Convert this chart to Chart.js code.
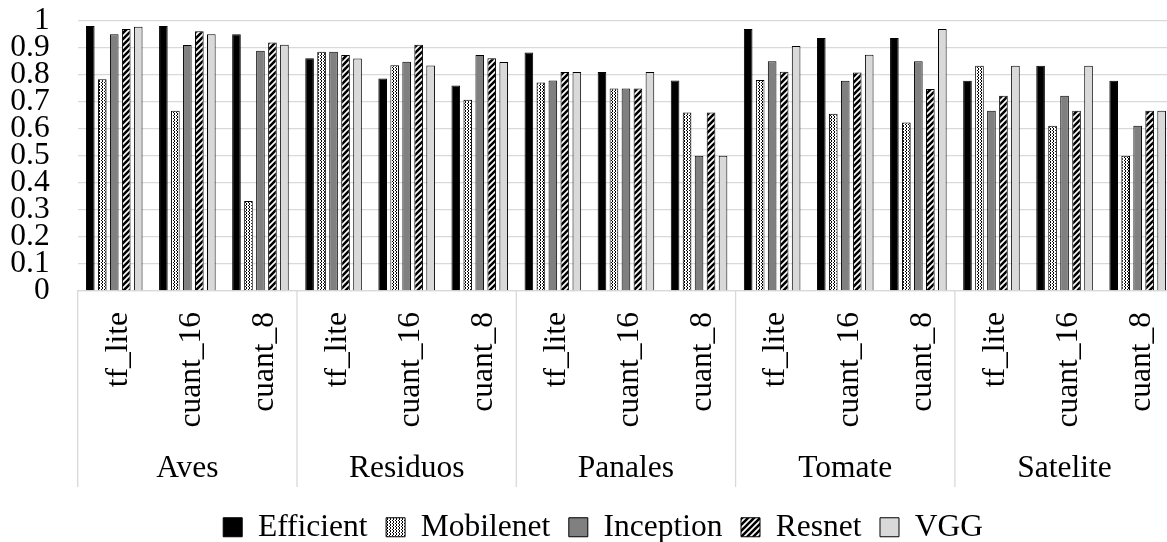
<!DOCTYPE html>
<html>
<head>
<meta charset="utf-8">
<script src="https://cdn.jsdelivr.net/npm/chart.js@4/dist/chart.umd.min.js"></script>
<style>
  html, body { margin: 0; padding: 0; background: #fff; overflow: hidden; }
  #wrap { width: 1205px; height: 542px; }
</style>
</head>
<body>
<div id="wrap"><canvas id="c" width="1205" height="542" style="width:1205px;height:542px"></canvas></div>
<script>
// ---- data ----
const groups = ['Aves', 'Residuos', 'Panales', 'Tomate', 'Satelite'];
const quantTypes = ['tf_lite', 'cuant_16', 'cuant_8'];
const seriesNames = ['Efficient', 'Mobilenet', 'Inception', 'Resnet', 'VGG'];
const yTicks = [0, 0.1, 0.2, 0.3, 0.4, 0.5, 0.6, 0.7, 0.8, 0.9, 1];

// order: Aves(tf_lite, cuant_16, cuant_8), Residuos(...), Panales(...), Tomate(...), Satelite(...)
const efficient = [0.980, 0.980, 0.950, 0.861, 0.786, 0.760, 0.882, 0.810, 0.779, 0.969, 0.936, 0.936, 0.778, 0.833, 0.778];
const mobilenet = [0.783, 0.667, 0.333, 0.885, 0.835, 0.708, 0.771, 0.749, 0.660, 0.781, 0.656, 0.623, 0.833, 0.611, 0.500];
const inception = [0.950, 0.910, 0.889, 0.885, 0.848, 0.873, 0.779, 0.749, 0.500, 0.850, 0.778, 0.850, 0.667, 0.722, 0.611];
const resnet    = [0.969, 0.961, 0.919, 0.873, 0.911, 0.861, 0.810, 0.749, 0.660, 0.811, 0.808, 0.747, 0.722, 0.667, 0.667];
const vgg       = [0.978, 0.950, 0.911, 0.860, 0.834, 0.847, 0.810, 0.810, 0.500, 0.906, 0.874, 0.969, 0.833, 0.833, 0.667];

const categoryLabels = groups.flatMap(() => quantTypes);

// ---- patterns ----
function dotPattern() {
  const c = document.createElement('canvas');
  c.width = 3; c.height = 3;
  const g = c.getContext('2d');
  g.fillStyle = '#ffffff'; g.fillRect(0, 0, 3, 3);
  g.fillStyle = '#000000';
  g.fillRect(0, 0, 1, 1);
  g.fillRect(0, 2, 1, 1);
  g.fillRect(2, 1, 1, 1);
  return g.createPattern(c, 'repeat');
}
function stripePattern() {
  const s = 6;
  const c = document.createElement('canvas');
  c.width = s; c.height = s;
  const g = c.getContext('2d');
  g.fillStyle = '#ffffff'; g.fillRect(0, 0, s, s);
  g.strokeStyle = '#000000'; g.lineWidth = 2.6;
  g.beginPath();
  g.moveTo(-1, s + 1); g.lineTo(s + 1, -1);
  g.moveTo(-1, 1); g.lineTo(1, -1);
  g.moveTo(s - 1, s + 1); g.lineTo(s + 1, s - 1);
  g.stroke();
  return g.createPattern(c, 'repeat');
}

const FONT = "'Liberation Serif', 'Times New Roman', serif";
const FS = 31.5;
const fills = ['#000000', dotPattern(), '#808080', stripePattern(), '#d9d9d9'];
const values = [efficient, mobilenet, inception, resnet, vgg];

const datasets = seriesNames.map((name, i) => ({
  label: name,
  data: values[i],
  backgroundColor: fills[i],
  borderColor: '#000000',
  borderWidth: 1,
  categoryPercentage: 0.82,
  barPercentage: 0.72
}));

const separators = {
  id: 'separators',
  afterLayout(chart) {
    // center legend on the full (Excel-style) chart width
    if (chart.legend) { chart.legend.left += 16; chart.legend.right += 16; }
  },
  afterDraw(chart) {
    const xs = chart.scales.x;
    const ctx = chart.ctx;
    const half = (xs.getPixelForTick(1) - xs.getPixelForTick(0)) / 2;
    ctx.save();
    ctx.strokeStyle = '#d9d9d9';
    ctx.lineWidth = 1.3;
    for (let k = 0; k <= groups.length; k++) {
      const px = k < groups.length ? xs.getPixelForTick(k * 3) - half : xs.getPixelForTick(categoryLabels.length - 1) + half;
      ctx.beginPath();
      ctx.moveTo(px, chart.chartArea.bottom);
      ctx.lineTo(px, 487);
      ctx.stroke();
    }
    ctx.restore();
  }
};

new Chart(document.getElementById('c'), {
  type: 'bar',
  data: { labels: categoryLabels, datasets },
  plugins: [separators],
  options: {
    responsive: false,
    animation: false,
    devicePixelRatio: 1,
    layout: { padding: { left: 0, right: 30.8, top: 20.7, bottom: -11 } },
    plugins: {
      tooltip: { enabled: false },
      legend: {
        position: 'bottom',
        labels: {
          font: { family: FONT, size: FS },
          color: '#000',
          boxWidth: 19,
          boxHeight: 19,
          padding: 18.5
        }
      }
    },
    scales: {
      y: {
        min: 0, max: 1,
        afterBuildTicks(scale) { scale.ticks = yTicks.map(v => ({ value: v })); },
        afterFit(scale) { scale.width = 77.7; },
        ticks: {
          font: { family: FONT, size: FS },
          color: '#000',
          padding: 0,
          autoSkip: false,
          callback: v => String(+(+v).toFixed(1))
        },
        grid: { color: '#d9d9d9', lineWidth: 1.3, drawTicks: true, tickLength: 28, tickColor: 'rgba(0,0,0,0)' },
        border: { display: false }
      },
      x: {
        afterFit(scale) { scale.height = 149; },
        ticks: {
          font: { family: FONT, size: FS },
          color: '#000',
          minRotation: 90, maxRotation: 90,
          autoSkip: false,
          padding: 21,
          labelOffset: 4
        },
        grid: { display: true, drawOnChartArea: false, drawTicks: false },
        border: { display: true, color: '#d9d9d9', width: 1.3 }
      },
      x2: {
        type: 'category',
        labels: groups,
        position: 'bottom',
        offset: true,
        afterFit(scale) { scale.height = 53; },
        ticks: {
          font: { family: FONT, size: FS },
          color: '#000',
          padding: 2,
          maxRotation: 0, minRotation: 0,
          autoSkip: false
        },
        grid: { display: false },
        border: { display: false }
      }
    }
  }
});
</script>
</body>
</html>
